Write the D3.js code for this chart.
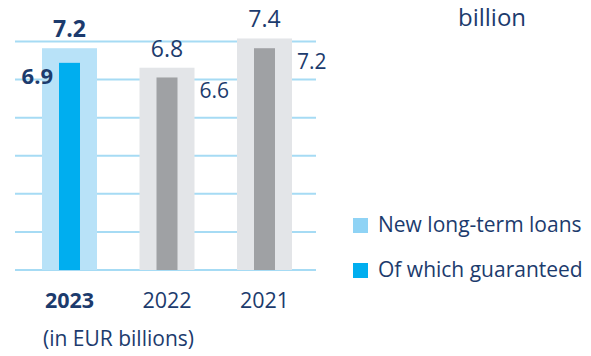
<!DOCTYPE html>
<html>
<head>
<meta charset="utf-8">
<script src="https://cdn.jsdelivr.net/npm/d3@7"></script>
<style>
  body { margin: 0; background: #fff; }
  svg { display: block; font-family: 'Open Sans', 'Noto Sans', sans-serif; }
</style>
</head>
<body>
<div id="chart"></div>
<script>
// data
const years = ['2023', '2022', '2021'];
const newLoans = [7.2, 6.8, 7.4];
const guaranteed = [6.9, 6.6, 7.2];
const legendLabels = ['New long-term loans', 'Of which guaranteed'];
const gridTicks = [0, 1, 2, 3, 4, 5, 6];

const width = 591;
const height = 356;
const navy = '#1c3b6d';

const svg = d3.select('#chart')
  .append('svg')
  .attr('width', width)
  .attr('height', height);

const x = d3.scalePoint()
  .domain(years)
  .range([69.5, 264.5]);

// bars are not drawn from zero in the original
const y = d3.scaleLinear()
  .domain([2.65, 7.5])
  .range([270, 33.6]);

const grid = d3.scaleLinear()
  .domain([0, 6])
  .range([270, 41.5]);

const outerW = 55;
const innerW = 21;

// gridlines
svg.append('g')
  .selectAll('line')
  .data(gridTicks)
  .enter().append('line')
    .attr('x1', 15)
    .attr('x2', 316)
    .attr('y1', d => grid(d))
    .attr('y2', d => grid(d))
    .style('stroke', '#a6dbf4')
    .style('stroke-width', 2);

const bars = svg.append('g')
  .selectAll('g')
  .data(years)
  .enter().append('g');

bars.append('rect')
  .attr('x', d => x(d) - outerW / 2)
  .attr('width', outerW)
  .attr('y', (d, i) => y(newLoans[i]))
  .attr('height', (d, i) => y.range()[0] - y(newLoans[i]))
  .style('fill', (d, i) => i === 0 ? '#b8e2f8' : '#e3e5e8');

bars.append('rect')
  .attr('x', d => x(d) - innerW / 2)
  .attr('width', innerW)
  .attr('y', (d, i) => y(guaranteed[i]))
  .attr('height', (d, i) => y.range()[0] - y(guaranteed[i]))
  .style('fill', (d, i) => i === 0 ? '#00aeef' : '#9fa1a4');

// value labels
bars.append('text')
  .attr('x', d => x(d))
  .attr('y', (d, i) => y(newLoans[i]) - 11)
  .attr('text-anchor', 'middle')
  .style('font-size', '23px')
  .style('font-weight', (d, i) => i === 0 ? 700 : 400)
  .style('fill', navy)
  .text((d, i) => newLoans[i].toFixed(1));

bars.append('text')
  .attr('x', (d, i) => i === 0 ? x(d) - innerW / 2 - 6 : x(d) + outerW / 2 + 5)
  .attr('y', (d, i) => y(guaranteed[i]) + 21)
  .attr('text-anchor', (d, i) => i === 0 ? 'end' : 'start')
  .style('font-size', (d, i) => i === 0 ? '22px' : '21px')
  .style('font-weight', (d, i) => i === 0 ? 700 : 400)
  .style('fill', navy)
  .text((d, i) => guaranteed[i].toFixed(1));

// year labels
bars.append('text')
  .attr('x', d => x(d))
  .attr('y', 308)
  .attr('text-anchor', 'middle')
  .style('font-size', '21.5px')
  .style('font-weight', (d, i) => i === 0 ? 700 : 400)
  .style('fill', navy)
  .text(d => d);

svg.append('text')
  .attr('x', 43)
  .attr('y', 346)
  .style('font-size', '21px')
  .style('fill', navy)
  .text('(in EUR billions)');

svg.append('text')
  .attr('x', 458)
  .attr('y', 26)
  .style('font-size', '24px')
  .style('fill', navy)
  .text('billion');

// legend
const legend = svg.append('g')
  .selectAll('g')
  .data(legendLabels)
  .enter().append('g')
  .attr('transform', (d, i) => `translate(353, ${218 + i * 45})`);

legend.append('rect')
  .attr('width', 15)
  .attr('height', 15)
  .style('fill', (d, i) => i === 0 ? '#8fd3f5' : '#00aeef');

legend.append('text')
  .attr('x', 25)
  .attr('y', 14)
  .style('font-size', '21px')
  .style('fill', navy)
  .text(d => d);
</script>
</body>
</html>
